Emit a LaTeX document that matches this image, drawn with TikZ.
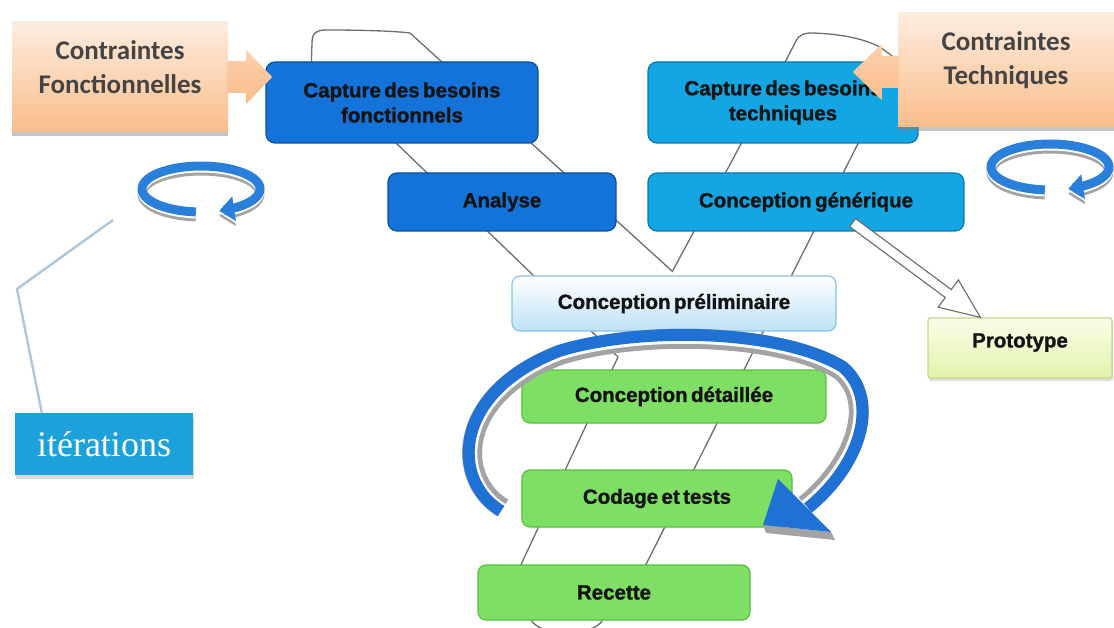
\documentclass[tikz,border=0pt]{standalone}
\usepackage{fontspec}
\setmainfont{Liberation Sans}
\newfontfamily\stagefont{Liberation Sans}[WordSpace=0.6, BoldFeatures={FakeBold=1.3}]
\newfontfamily\calib{Carlito}
\newfontfamily\serifit{Liberation Serif}
\usetikzlibrary{calc,arrows.meta,shadows,backgrounds}

\definecolor{dkblue}{HTML}{1373D8}
\definecolor{dkblueb}{HTML}{0C4F9E}
\definecolor{ltblue}{HTML}{14A6E2}
\definecolor{ltblueb}{HTML}{0D78B0}
\definecolor{prefill}{HTML}{BEE2F6}
\definecolor{preb}{HTML}{86C4E6}
\definecolor{gfill}{HTML}{7EDF64}
\definecolor{gborder}{HTML}{57BE42}
\definecolor{protoA}{HTML}{FBFDE8}
\definecolor{protoB}{HTML}{E2F3AC}
\definecolor{protob}{HTML}{C3D98A}
\definecolor{orA}{HTML}{FDEDE0}
\definecolor{orB}{HTML}{F9BD8A}
\definecolor{orC}{HTML}{FBD0AE}
\definecolor{ctext}{HTML}{444444}
\definecolor{itblue}{HTML}{1CA1DA}
\definecolor{wire}{HTML}{6E6E6E}
\definecolor{arrowblue}{HTML}{1F72D4}
\definecolor{rimgrey}{HTML}{A3A3A3}
\definecolor{ringblue}{HTML}{2A7FDA}
\definecolor{leader}{HTML}{AEC8DA}
\definecolor{txt}{HTML}{141414}
\definecolor{hollow}{HTML}{6A6A6A}

% three-layer ring arrow around a centre (x, y)
\newcommand{\ringarrow}[2]{%
  \draw[line width=9pt, rimgrey, -{Triangle[length=15pt,width=24pt]}]
    plot[domain=95:432, samples=70] ({#1+59*cos(\x)},{#2+5+23*sin(\x)});
  \draw[line width=9pt, white, -{Triangle[length=15pt,width=24pt]}]
    plot[domain=95:432, samples=70] ({#1+59*cos(\x)},{#2+2+23*sin(\x)});
  \draw[line width=9pt, ringblue, -{Triangle[length=15pt,width=24pt]}]
    plot[domain=95:432, samples=70] ({#1+59*cos(\x)},{#2+23*sin(\x)});
}

\begin{document}
\begin{tikzpicture}[x=1pt,y=-1pt,
  stagebox/.style={rounded corners=9pt, line width=1.2pt, inner sep=0pt, align=center,
    font=\stagefont\bfseries\fontsize{20.5}{25}\selectfont, text=txt},
  fonc/.style={stagebox, fill=dkblue, draw=dkblueb},
  tech/.style={stagebox, fill=ltblue, draw=ltblueb},
  gstage/.style={stagebox, rounded corners=8pt, fill=gfill, draw=gborder},
  prelim/.style={stagebox, rounded corners=8pt, top color=white, bottom color=prefill, draw=preb},
  protobox/.style={stagebox, rounded corners=2pt, top color=protoA, bottom color=protoB, draw=protob,
    drop shadow={shadow xshift=1pt, shadow yshift=-3pt, opacity=.25}},
  constraint/.style={inner sep=0pt, top color=orA, bottom color=orB,
    font=\calib\bfseries\fontsize{27}{34}\selectfont, text=ctext,
    drop shadow={shadow xshift=0pt, shadow yshift=-4pt, opacity=.45, fill=gray}},
  iterbox/.style={fill=itblue, inner sep=0pt, text=white, font=\serifit\fontsize{36}{40}\selectfont,
    drop shadow={shadow xshift=1pt, shadow yshift=-4pt, opacity=.3}},
  wire/.style={draw=wire, line width=1.3pt},
  leaderline/.style={draw=leader, line width=2.4pt}
]
\useasboundingbox (0,0) rectangle (1114,628);

% stages of the process
\node[fonc, minimum width=272pt, minimum height=81pt] (cbf) at (402,102.5) {Capture des besoins\\fonctionnels};
\node[tech, minimum width=270pt, minimum height=81pt] (cbt) at (783,102.5) {Capture des besoins\\techniques};
\node[fonc, minimum width=228pt, minimum height=58pt] (ana) at (502,202) {Analyse};
\node[tech, minimum width=316pt, minimum height=58pt] (gen) at (806,202) {Conception générique};
\node[prelim, minimum width=324pt, minimum height=55pt] (pre) at (674,303.5) {Conception préliminaire};
\node[gstage, minimum width=304pt, minimum height=53pt] (det) at (674,396.5) {Conception détaillée};
\node[gstage, minimum width=270pt, minimum height=57pt] (cod) at (657,498.5) {Codage et tests};
\node[gstage, minimum width=272pt, minimum height=55pt] (rec) at (614,592.5) {Recette};
\node[protobox, minimum width=184pt, minimum height=60pt] (proto) at (1020,348)
  {\raisebox{0.5pt}[0pt][0pt]{Prototype}};

% constraints
\node[constraint, minimum width=216pt, minimum height=110pt] (cf) at (120,77)
  {\raisebox{1.5pt}[0pt][0pt]{\begin{tabular}{@{}c@{}}Contraintes\\Fonctionnelles\end{tabular}}};
\node[constraint, minimum width=216pt, minimum height=114pt] (ct) at (1006,70)
  {\raisebox{3.5pt}[0pt][0pt]{\begin{tabular}{@{}c@{}}Contraintes\\Techniques\end{tabular}}};

% legend box
\node[iterbox, minimum width=178pt, minimum height=62pt] (iter) at (104,444) {itérations};

% the Y-shaped wire running behind the stages
\coordinate (aTop) at ($(cbf.north west)+(46,0)$);
\coordinate (apex) at ($(pre.north west)+(161,-4)$);
\coordinate (cTop) at ($(cbt.north west)+(138,0)$);
\coordinate (dTop) at ($(cbt.north west)+(252,0)$);
\coordinate (kink) at (618,357);
\coordinate (eEnd) at ($(rec.north west)+(32,25)$);
\coordinate (dEnd) at ($(rec.north west)+(156,25)$);
\coordinate (uL) at ($(rec.south west)+(54,0)$);
\coordinate (uR) at ($(rec.south west)+(125,0)$);
\begin{pgfonlayer}{background}
  \fill[white] (0,0) rectangle (1114,628);
  \draw[wire] (eEnd) -- (kink) -- (aTop) -- (312,43)
    .. controls (312,33) and (316,30) .. (327,30)
    .. controls (360,30) and (395,31) .. (410,33) -- (apex) -- (cTop) -- (796,41)
    .. controls (800,34) and (804,33) .. (813,33)
    .. controls (840,34) and (862,38) .. (880,47) -- (dTop) -- (dEnd);
  \draw[wire] (uL) .. controls ($(uL)+(10,16)$) and ($(uR)+(-10,16)$) .. (uR);
\end{pgfonlayer}

% constraint arrows
\shade[top color=orC, bottom color=orB]
  ($(cf.east)+(-1,-16)$) -- ++(19,0) -- ++(0,-11) -- ++(26,27) -- ++(-26,27)
  -- ++(0,-11) -- ++(-19,0) -- cycle;
\shade[top color=orC, bottom color=orB]
  ($(ct.west)+(1,-14)$) -- ++(-17,0) -- ++(0,-12) -- ++(-29,28) -- ++(29,28)
  -- ++(0,-12) -- ++(17,0) -- cycle;

% hollow arrow towards the prototype
\coordinate (pa) at ($(gen.south east)+(-112,-9)$);
\coordinate (pb) at ($(proto.north west)+(53,0)$);
\coordinate (ph) at ($(pb)!40pt!(pa)$);
\filldraw[fill=white, draw=hollow, line width=1.1pt, line join=miter]
  ($(pa)!5pt!90:(pb)$) -- ($(ph)!5pt!90:(pb)$) -- ($(ph)!17pt!90:(pb)$) -- (pb)
  -- ($(ph)!17pt!-90:(pb)$) -- ($(ph)!5pt!-90:(pb)$) -- ($(pa)!5pt!-90:(pb)$) -- cycle;

% big iteration loop around the lower stages
\draw[line width=20pt, rimgrey]
  (503,508) .. controls (455,480) and (455,395) .. (560,355)
  .. controls (640,330) and (780,333) .. (840,370)
  .. controls (875,398) and (860,460) .. (805,505);
\draw[line width=13pt, white]
  (502,509.5) .. controls (453.5,480.5) and (453.5,394.5) .. (559.5,353.5)
  .. controls (640,328.5) and (780.5,331.5) .. (841,369)
  .. controls (876.5,398) and (861.5,461) .. (806,506);
\draw[line width=12pt, arrowblue]
  (501,511) .. controls (451,481) and (451,393) .. (559,351)
  .. controls (640,326) and (781,329) .. (843,367)
  .. controls (879,398) and (864,462) .. (808,508);
\fill[rimgrey] (763,525) -- (831,532) -- (835,540) -- (766,533) -- cycle;
\fill[arrowblue] (778,479) -- (831,532) -- (763,525) -- cycle;

% small iteration rings and the leader line to the legend
\coordinate (lead0) at (113,220);
\coordinate (lead1) at (17,289);
\draw[leaderline] (lead0) -- (lead1) -- ($(iter.north west)+(27,0)$);
\ringarrow{201}{189}
\ringarrow{1050}{167}
\end{tikzpicture}
\end{document}
